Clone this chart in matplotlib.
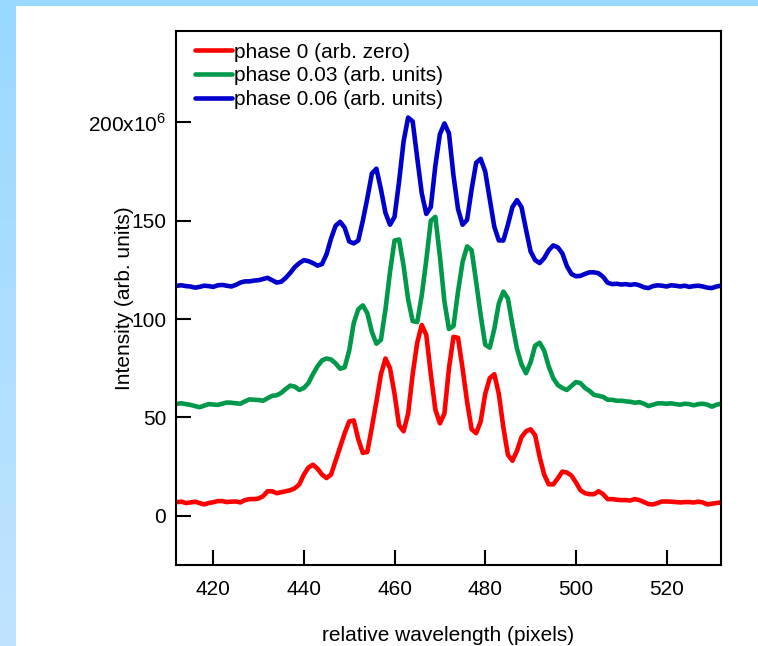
import numpy as np
import matplotlib
matplotlib.use("Agg")
import matplotlib.pyplot as plt
from matplotlib.ticker import FuncFormatter

plt.rcParams['font.family'] = ['Liberation Sans', 'DejaVu Sans']
plt.rcParams['mathtext.fontset'] = 'custom'
plt.rcParams['mathtext.rm'] = 'Liberation Sans'

OUTPUT_FILE = "out.png"

# relative wavelength, one value per pixel
pixels = np.arange(412, 533)

# intensity in units of 1e6
phase_0 = [
    7.0, 7.2, 6.5, 6.8, 7.2, 6.5, 5.8, 6.5, 6.9, 7.5,
    7.5, 7.0, 7.2, 7.3, 6.8, 8.0, 8.5, 8.5, 8.8, 10.0,
    12.5, 12.5, 11.5, 12.0, 12.5, 13.0, 14.0, 16.0, 21.0, 24.5,
    26.0, 24.0, 21.0, 19.2, 21.0, 28.0, 35.0, 42.0, 48.0, 48.5,
    39.0, 32.0, 32.5, 45.0, 58.0, 72.0, 80.0, 75.0, 62.0, 46.0,
    43.0, 52.0, 72.0, 88.0, 97.0, 92.0, 72.0, 54.0, 47.0, 52.0,
    75.0, 91.0, 90.5, 75.0, 58.0, 44.0, 42.0, 48.0, 62.0, 70.0,
    72.0, 62.0, 45.0, 31.0, 28.0, 33.0, 40.0, 43.0, 44.0, 41.0,
    30.0, 21.0, 16.0, 16.0, 19.0, 22.5, 22.0, 20.5, 17.0, 13.0,
    11.5, 11.0, 11.0, 12.5, 11.0, 8.5, 8.5, 8.2, 8.0, 8.0,
    7.8, 8.5, 8.0, 7.0, 6.0, 5.8, 6.5, 7.3, 7.3, 7.2,
    7.0, 6.8, 7.0, 7.0, 6.8, 7.2, 6.8, 5.8, 6.2, 6.5,
    6.8,
]
phase_003 = [
    57.0, 57.2, 56.8, 56.4, 55.8, 55.2, 56.0, 56.8, 56.6, 56.4,
    57.0, 57.6, 57.5, 57.2, 57.0, 58.2, 59.2, 59.0, 58.9, 58.5,
    59.8, 61.0, 61.3, 62.5, 64.5, 66.2, 65.7, 64.0, 65.0, 67.5,
    72.0, 76.0, 79.0, 80.0, 79.5, 77.5, 74.8, 75.5, 84.0, 98.0,
    105.0, 107.0, 103.0, 93.5, 87.5, 89.5, 105.0, 124.0, 140.0, 140.5,
    127.0, 110.0, 99.0, 98.5, 112.0, 130.0, 150.0, 152.0, 132.0, 109.0,
    95.0, 96.5, 114.0, 129.0, 137.0, 135.0, 119.0, 102.0, 87.0, 85.5,
    95.0, 108.0, 114.0, 110.5, 97.0, 85.0, 77.0, 72.5, 78.0, 86.5,
    88.0, 84.0, 76.0, 70.0, 66.5, 65.0, 64.0, 66.0, 68.0, 67.5,
    65.0, 63.5, 61.5, 61.0, 60.5, 59.0, 59.0, 58.5, 58.5, 58.2,
    58.0, 57.5, 57.8, 57.0, 55.8, 56.5, 57.2, 57.2, 57.0, 57.2,
    56.8, 56.5, 57.0, 56.8, 56.2, 56.8, 57.0, 56.5, 55.5, 56.5,
    57.0,
]
phase_006 = [
    117.0, 117.2, 116.8, 116.6, 116.0, 116.4, 117.0, 116.8, 116.4, 117.2,
    117.4, 117.0, 116.6, 117.4, 118.6, 119.2, 119.2, 119.6, 119.8, 120.4,
    121.0, 119.8, 118.6, 119.0, 121.0, 123.5, 126.5, 128.5, 130.0, 129.5,
    128.5, 127.2, 128.0, 133.0, 141.0, 147.5, 149.5, 146.5, 139.5, 138.5,
    140.0, 150.0, 161.5, 174.0, 176.5, 166.0, 154.0, 148.0, 152.0, 170.0,
    190.5, 202.5, 200.5, 182.0, 164.0, 153.5, 157.0, 178.0, 194.0, 199.5,
    194.5, 173.0, 156.0, 148.0, 150.5, 166.0, 179.5, 181.5, 175.0, 161.0,
    147.0, 140.0, 140.0, 148.0, 157.0, 160.5, 157.0, 145.5, 134.5, 130.0,
    128.5, 131.0, 135.0, 137.5, 136.5, 133.5, 127.0, 123.0, 121.8, 122.0,
    123.0, 123.8, 123.8, 123.3, 121.5, 118.5, 117.8, 118.0, 117.6, 117.8,
    117.4, 117.8, 117.2, 116.2, 115.8, 116.8, 117.2, 117.0, 116.6, 117.2,
    117.0, 116.6, 117.0, 116.4, 116.8, 117.0, 116.6, 116.0, 115.8, 116.6,
    117.0,
]

series = [
    (phase_0, '#ff0000', 'phase 0 (arb. zero)'),
    (phase_003, '#00994a', 'phase 0.03 (arb. units)'),
    (phase_006, '#0000cc', 'phase 0.06 (arb. units)'),
]
y_ticks = [0, 50, 100, 150, 200]
x_ticks = [420, 440, 460, 480, 500, 520]


def tick_label(v, pos):
    if v == 200:
        return '200x10$^{6}$'
    return f'{v:g}'


fig = plt.figure(figsize=(7.58, 6.46), dpi=100)
fig.patch.set_facecolor('white')

# light blue frame strips (top and left)
top_ax = fig.add_axes([0, 640 / 646, 1, 6 / 646])
top_ax.set_facecolor('#99d8ff')
top_ax.set_xticks([])
top_ax.set_yticks([])
for s in top_ax.spines.values():
    s.set_visible(False)
left_ax = fig.add_axes([0, 0, 16 / 758, 640 / 646])
grad = np.linspace(0, 1, 256).reshape(-1, 1)
left_ax.imshow(grad, aspect='auto', extent=[0, 1, 0, 1],
               cmap=matplotlib.colors.LinearSegmentedColormap.from_list('b', ['#c0e4ff', '#99d8ff']),
               origin='lower')
left_ax.axis('off')

ax = fig.add_axes([176 / 758, 81 / 646, 545 / 758, 534 / 646])
for vals, color, label in series:
    ax.plot(pixels, vals, color=color, linewidth=3.3, label=label,
            solid_joinstyle='round', solid_capstyle='round')

ax.set_xlim(411.8, 532)
ax.set_ylim(-25, 246.5)
ax.set_xticks(x_ticks)
ax.set_yticks(y_ticks)
ax.yaxis.set_major_formatter(FuncFormatter(tick_label))
ax.tick_params(axis='both', direction='in', length=10.5, width=1.5,
               labelsize=15, colors='black')
ax.tick_params(axis='x', pad=10.5)
ax.tick_params(axis='y', pad=7)
for s in ax.spines.values():
    s.set_linewidth(1.5)

ax.set_xlabel('relative wavelength (pixels)', fontsize=15)
ax.xaxis.set_label_coords(0.5, -0.1135)
ax.set_ylabel('Intensity (arb. units)', fontsize=15, va='center')
ax.yaxis.set_label_coords(-0.0936, 0.5)

ax.legend(loc='upper left', frameon=False, fontsize=15,
          handlelength=1.75, handletextpad=0.12, labelspacing=0.22,
          borderaxespad=0, borderpad=0, bbox_to_anchor=(0.035, 0.978))

plt.savefig(OUTPUT_FILE, dpi=100)
plt.close(fig)
